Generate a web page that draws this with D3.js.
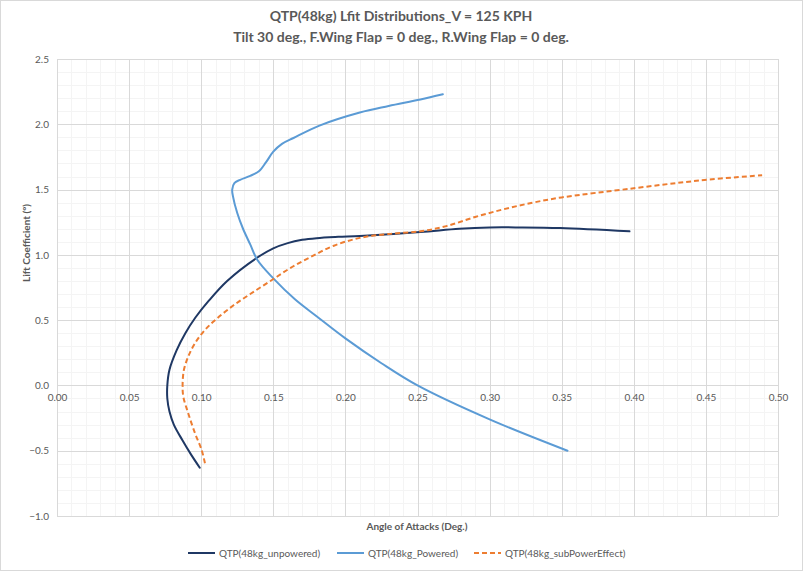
<!DOCTYPE html>
<html><head><meta charset="utf-8">
<script src="https://cdn.jsdelivr.net/npm/d3@7"></script>
<style>
body{margin:0;background:#fff;}
text{font-family:Lato,"Open Sans",sans-serif;}
</style></head>
<body>
<svg id="chart" width="803" height="571"></svg>
<script>
const titleLines = ["QTP(48kg) Lfit Distributions_V = 125 KPH", "Tilt 30 deg., F.Wing Flap = 0 deg., R.Wing Flap = 0 deg."];
const xTicks = [0, 0.05, 0.10, 0.15, 0.20, 0.25, 0.30, 0.35, 0.40, 0.45, 0.50];
const yTicks = [-1.0, -0.5, 0.0, 0.5, 1.0, 1.5, 2.0, 2.5];
const seriesNames = ["QTP(48kg_unpowered)", "QTP(48kg_Powered)", "QTP(48kg_subPowerEffect)"];

const unpoweredX = [0.099, 0.093, 0.087, 0.081, 0.078, 0.0765, 0.0765, 0.078, 0.083, 0.089, 0.096, 0.105, 0.118, 0.139, 0.150, 0.160, 0.170, 0.18, 0.195, 0.21, 0.252, 0.279, 0.30, 0.321, 0.349, 0.397];
const unpoweredY = [-0.63, -0.53, -0.42, -0.30, -0.20, -0.10, 0.0, 0.12, 0.27, 0.40, 0.52, 0.645, 0.80, 0.98, 1.05, 1.09, 1.115, 1.128, 1.138, 1.145, 1.175, 1.20, 1.21, 1.21, 1.205, 1.18];

const poweredX = [0.2676, 0.252, 0.23, 0.21, 0.182, 0.164, 0.156, 0.150, 0.145, 0.140, 0.134, 0.127, 0.123, 0.1215, 0.122, 0.125, 0.129, 0.134, 0.139, 0.150, 0.165, 0.18, 0.20, 0.225, 0.25, 0.30, 0.354];
const poweredY = [2.23, 2.19, 2.14, 2.09, 1.99, 1.895, 1.85, 1.79, 1.71, 1.64, 1.605, 1.575, 1.55, 1.50, 1.45, 1.32, 1.20, 1.08, 0.96, 0.82, 0.66, 0.53, 0.36, 0.17, 0.0, -0.26, -0.50];

const subPowerX = [0.1026, 0.1003, 0.0957, 0.091, 0.0876, 0.0871, 0.088, 0.091, 0.0957, 0.1026, 0.1107, 0.122, 0.134, 0.148, 0.162, 0.177, 0.192, 0.21, 0.23, 0.252, 0.27, 0.29, 0.31, 0.33, 0.35, 0.40, 0.446, 0.489];
const subPowerY = [-0.596, -0.494, -0.366, -0.213, -0.086, 0.004, 0.119, 0.22, 0.323, 0.425, 0.51, 0.61, 0.70, 0.80, 0.90, 0.99, 1.07, 1.13, 1.16, 1.18, 1.22, 1.29, 1.35, 1.40, 1.44, 1.51, 1.57, 1.61];

const colors = ["#1F3864", "#5B9BD5", "#ED7D31"];

const svg = d3.select("#chart");
svg.append("rect").attr("x",0.5).attr("y",0.5).attr("width",802).attr("height",570)
  .attr("fill","#fff").attr("stroke","#D9D9D9");

const x = d3.scaleLinear().domain([0, 0.5]).range([57, 778]);
const y = d3.scaleLinear().domain([-1, 2.5]).range([516, 59]);

// minor grid
const minorX = d3.range(0, 0.5001, 0.01);
const minorY = d3.range(-1, 2.5001, 0.1);
const g = svg.append("g");
g.selectAll(".mx").data(minorX).join("line")
  .attr("x1", d=>Math.round(x(d))+0.5).attr("x2", d=>Math.round(x(d))+0.5)
  .attr("y1", y(2.5)).attr("y2", y(-1)).attr("stroke","#F4F4F4");
g.selectAll(".my").data(minorY).join("line")
  .attr("y1", d=>Math.round(y(d))+0.5).attr("y2", d=>Math.round(y(d))+0.5)
  .attr("x1", x(0)).attr("x2", x(0.5)).attr("stroke","#F4F4F4");
// major grid
g.selectAll(".MX").data(xTicks).join("line")
  .attr("x1", d=>Math.round(x(d))+0.5).attr("x2", d=>Math.round(x(d))+0.5)
  .attr("y1", y(2.5)).attr("y2", y(-1)).attr("stroke","#D9D9D9");
g.selectAll(".MY").data(yTicks).join("line")
  .attr("y1", d=>Math.round(y(d))+0.5).attr("y2", d=>Math.round(y(d))+0.5)
  .attr("x1", x(0)).attr("x2", x(0.5)).attr("stroke","#D9D9D9");

// axes via d3 axes (labels only)
const yAxis = svg.append("g").attr("transform", `translate(${x(0)},0)`)
  .call(d3.axisLeft(y).tickValues(yTicks).tickFormat(d3.format(".1f")).tickSize(0).tickPadding(8));
const xAxis = svg.append("g").attr("transform", `translate(0,${y(0)})`)
  .call(d3.axisBottom(x).tickValues(xTicks).tickFormat(d3.format(".2f")).tickSize(0).tickPadding(8));
[xAxis, yAxis].forEach(a => {
  a.select(".domain").remove();
  a.selectAll("text").attr("fill","#595959").style("font-size","10px").style("font-family","Lato,'Open Sans',sans-serif");
});
svg.append("line").attr("x1",x(0)).attr("x2",x(0.5)).attr("y1",Math.round(y(0))+0.5).attr("y2",Math.round(y(0))+0.5).attr("stroke","#D9D9D9");

// titles
svg.selectAll(".title").data(titleLines).join("text")
  .attr("x", 401).attr("y",(d,i)=>21+i*21).attr("text-anchor","middle")
  .attr("fill","#595959").style("font-size","14px").style("font-weight","bold").text(d=>d);

svg.append("text").attr("x", 417).attr("y", 530).attr("text-anchor","middle")
  .attr("fill","#595959").style("font-size","10px").style("font-weight","bold").text("Angle of Attacks (Deg.)");
svg.append("text").attr("transform","translate(30,243) rotate(-90)").attr("text-anchor","middle")
  .attr("fill","#595959").style("font-size","10px").style("font-weight","bold").text("Lift Coefficient (°)");

// series
const series = [
  {xs: unpoweredX, ys: unpoweredY, dash: null},
  {xs: poweredX, ys: poweredY, dash: null},
  {xs: subPowerX, ys: subPowerY, dash: "5,3"}
];
const line = d3.line().x(d=>x(d[0])).y(d=>y(d[1])).curve(d3.curveCatmullRom.alpha(0.5));
series.forEach((s,i) => {
  const pts = s.xs.map((v,j)=>[v, s.ys[j]]);
  svg.append("path").datum(pts).attr("d", line).attr("fill","none")
    .attr("stroke", colors[i]).attr("stroke-width", 2)
    .attr("stroke-dasharray", s.dash).attr("stroke-linecap", s.dash ? "butt" : "round");
});

// legend
const legendX = [188, 337, 474];
seriesNames.forEach((n,i) => {
  svg.append("line").attr("x1", legendX[i]).attr("x2", legendX[i]+27).attr("y1",553).attr("y2",553)
    .attr("stroke", colors[i]).attr("stroke-width",2).attr("stroke-dasharray", series[i].dash);
  svg.append("text").attr("x", legendX[i]+31).attr("y", 556.5).attr("fill","#595959")
    .style("font-size","10px").text(n);
});
</script>
</body></html>
